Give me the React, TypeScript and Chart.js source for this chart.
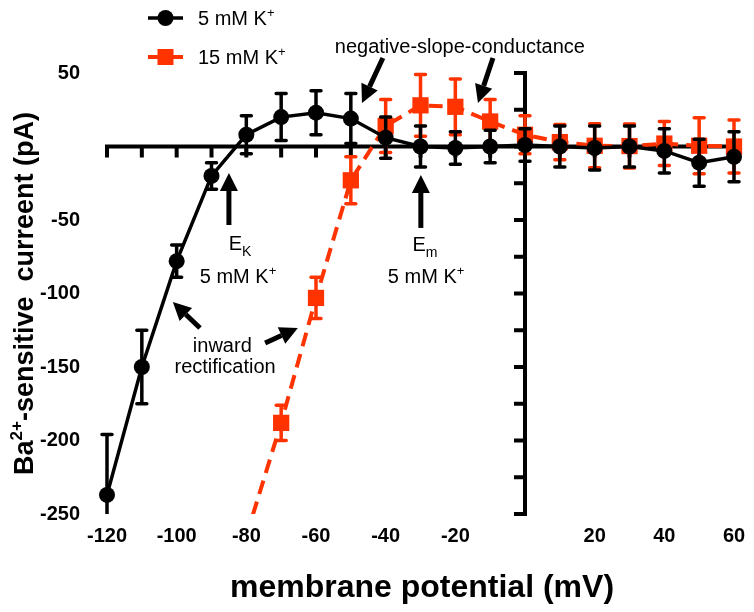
import React, { useEffect, useRef } from 'react';
import { Chart, registerables } from 'chart.js';

Chart.register(...registerables);

// ---- data ----
const voltage5 = [-120, -110, -100, -90, -80, -70, -60, -50, -40, -30, -20, -10, 0, 10, 20, 30, 40, 50, 60];
const current5 = [-237, -150, -78, -20, 8, 20, 23, 19, 6, 0, -1, 0, 1, 0, -1, 0, -3, -11, -7];
const error5 = [41, 25, 11, 9, 13, 16, 15, 17, 14, 14, 11, 11, 11, 14, 15, 14, 15, 16, 17];

const voltage15 = [-80, -70, -60, -50, -40, -30, -20, -10, 0, 10, 20, 30, 40, 50, 60];
const current15 = [-265, -188, -103, -23, 14, 28, 27, 17, 8, 3, 0.5, 0.3, 2, 0.5, 0];
const error15: (number | null)[] = [null, 12, 14, 16, 18, 21, 19, 15, 13, 12, 15, 15, 15, 19, 18];

const xTicks = [-120, -100, -80, -60, -40, -20, 0, 20, 40, 60];
const yTicks = [-250, -200, -150, -100, -50, 0, 50];

const legendLabels = ['5 mM K', '15 mM K'];
const xTitle = 'membrane potential (mV)';
const yTitleParts = ['Ba', '2+', '-sensitive  curreent (pA)'];

// annotation texts in data coordinates (x, baseline y)
const noteTexts = [
  { text: 'negative-slope-conductance', x: -18.7, y: 63.6 },
  { text: 'inward', x: -86.9, y: -139.8 },
  { text: 'rectification', x: -86.1, y: -154.1 },
];
const noteSubs = [
  { main: 'E', sub: 'K', x: -81.8, y: -70.7 },
  { main: 'E', sub: 'm', x: -28.7, y: -71.1 },
];
const noteConc = [
  { x: -82.4, y: -92.9 },
  { x: -28.4, y: -92.9 },
];
const arrows = [
  { x0: -40.8, y0: 60.2, x1: -46.8, y1: 29.6 },
  { x0: -9.2, y0: 60.2, x1: -13.5, y1: 29.6 },
  { x0: -85.0, y0: -53.4, x1: -85.0, y1: -18.0 },
  { x0: -29.9, y0: -55.4, x1: -29.9, y1: -19.4 },
  { x0: -93.3, y0: -123.5, x1: -101.1, y1: -105.8 },
  { x0: -74.6, y0: -133.7, x1: -65.2, y1: -123.5 },
];

const BLACK = '#000000';
const RED = '#ff3300';
const FAMILY = '"Liberation Sans", Arial, Helvetica, sans-serif';

type Part = { t: string; size: number; dy: number; bold?: boolean };

function drawParts(ctx: CanvasRenderingContext2D, parts: Part[], x: number, y: number, align: 'left' | 'center') {
  let w = 0;
  const widths: number[] = [];
  for (const p of parts) {
    ctx.font = `${p.bold ? 'bold ' : ''}${p.size}px ${FAMILY}`;
    const m = ctx.measureText(p.t).width;
    widths.push(m);
    w += m;
  }
  let cx = align === 'center' ? x - w / 2 : x;
  ctx.textAlign = 'left';
  ctx.textBaseline = 'alphabetic';
  parts.forEach((p, i) => {
    ctx.font = `${p.bold ? 'bold ' : ''}${p.size}px ${FAMILY}`;
    ctx.fillText(p.t, cx, y + p.dy);
    cx += widths[i];
  });
}

function drawArrow(ctx: CanvasRenderingContext2D, x0: number, y0: number, x1: number, y1: number) {
  const ang = Math.atan2(y1 - y0, x1 - x0);
  const headLen = 18;
  const headHalf = 9;
  const bx = x1 - headLen * Math.cos(ang);
  const by = y1 - headLen * Math.sin(ang);
  ctx.save();
  ctx.strokeStyle = BLACK;
  ctx.fillStyle = BLACK;
  ctx.lineWidth = 5;
  ctx.beginPath();
  ctx.moveTo(x0, y0);
  ctx.lineTo(bx, by);
  ctx.stroke();
  ctx.beginPath();
  ctx.moveTo(x1, y1);
  ctx.lineTo(bx + headHalf * Math.sin(ang), by - headHalf * Math.cos(ang));
  ctx.lineTo(bx - headHalf * Math.sin(ang), by + headHalf * Math.cos(ang));
  ctx.closePath();
  ctx.fill();
  ctx.restore();
}

const errorBarPlugin = {
  id: 'errorBars',
  beforeDatasetDraw(chart: any, args: any) {
    const idx = args.index;
    const ds = chart.data.datasets[idx];
    const errs: (number | null)[] = ds.errors;
    if (!errs) return;
    const xs = chart.scales.x;
    const ys = chart.scales.y;
    const ca = chart.chartArea;
    const ctx = chart.ctx;
    ctx.save();
    ctx.beginPath();
    ctx.rect(ca.left - 30, ca.top - 30, ca.right - ca.left + 60, ca.bottom - ca.top + 30);
    ctx.clip();
    ctx.strokeStyle = ds.borderColor;
    ctx.lineWidth = 3.5;
    ctx.lineCap = 'round';
    ds.data.forEach((pt: any, i: number) => {
      const e = errs[i];
      if (e == null) return;
      const px = xs.getPixelForValue(pt.x);
      const top = ys.getPixelForValue(pt.y + e);
      const bot = ys.getPixelForValue(pt.y - e);
      ctx.beginPath();
      ctx.moveTo(px, top);
      ctx.lineTo(px, bot);
      ctx.moveTo(px - 5, top);
      ctx.lineTo(px + 5, top);
      ctx.moveTo(px - 5, bot);
      ctx.lineTo(px + 5, bot);
      ctx.stroke();
    });
    ctx.restore();
  },
};

const axesPlugin = {
  id: 'zeroAxes',
  beforeDatasetsDraw(chart: any) {
    const ctx = chart.ctx;
    const xs = chart.scales.x;
    const ys = chart.scales.y;
    const y0 = ys.getPixelForValue(0);
    const x0 = xs.getPixelForValue(0);
    ctx.save();
    ctx.strokeStyle = BLACK;
    ctx.lineWidth = 4;
    ctx.lineCap = 'butt';
    // x axis at y = 0
    ctx.beginPath();
    ctx.moveTo(xs.getPixelForValue(xs.min) - 2, y0);
    ctx.lineTo(xs.getPixelForValue(xs.max) + 2, y0);
    for (let v = xs.min; v <= xs.max; v += 10) {
      const px = xs.getPixelForValue(v);
      ctx.moveTo(px, y0);
      ctx.lineTo(px, y0 + 11);
    }
    ctx.stroke();
    // y axis at x = 0
    ctx.beginPath();
    ctx.moveTo(x0, ys.getPixelForValue(ys.max) - 2);
    ctx.lineTo(x0, ys.getPixelForValue(ys.min) + 2);
    for (let v = ys.min; v <= ys.max; v += 25) {
      const py = ys.getPixelForValue(v);
      ctx.moveTo(x0, py);
      ctx.lineTo(x0 - 11, py);
    }
    ctx.stroke();
    ctx.restore();
  },
};

const decorPlugin = {
  id: 'decor',
  afterDraw(chart: any) {
    const ctx = chart.ctx;
    const xs = chart.scales.x;
    const ys = chart.scales.y;
    const ca = chart.chartArea;
    ctx.save();
    ctx.fillStyle = BLACK;

    // legend
    const legY = [18, 57];
    // black
    ctx.strokeStyle = BLACK;
    ctx.lineWidth = 3.5;
    ctx.beginPath();
    ctx.moveTo(148, legY[0]);
    ctx.lineTo(183, legY[0]);
    ctx.stroke();
    ctx.beginPath();
    ctx.arc(165.5, legY[0], 8, 0, Math.PI * 2);
    ctx.fill();
    // red
    ctx.strokeStyle = RED;
    ctx.fillStyle = RED;
    ctx.lineWidth = 4;
    ctx.beginPath();
    ctx.moveTo(148, legY[1]);
    ctx.lineTo(183, legY[1]);
    ctx.stroke();
    ctx.fillRect(165.5 - 8, legY[1] - 8, 16, 16);
    ctx.fillStyle = BLACK;
    legendLabels.forEach((lab, i) => {
      drawParts(ctx, [
        { t: lab, size: 20, dy: 0 },
        { t: '+', size: 13, dy: -8 },
      ], 198, legY[i] + 7, 'left');
    });

    // annotations
    noteTexts.forEach((n) => {
      drawParts(ctx, [{ t: n.text, size: 20, dy: 0 }], xs.getPixelForValue(n.x), ys.getPixelForValue(n.y), 'center');
    });
    noteSubs.forEach((n) => {
      drawParts(ctx, [
        { t: n.main, size: 20, dy: 0 },
        { t: n.sub, size: 14, dy: 6 },
      ], xs.getPixelForValue(n.x), ys.getPixelForValue(n.y), 'center');
    });
    noteConc.forEach((n) => {
      drawParts(ctx, [
        { t: '5 mM K', size: 20, dy: 0 },
        { t: '+', size: 13, dy: -8 },
      ], xs.getPixelForValue(n.x), ys.getPixelForValue(n.y), 'center');
    });
    arrows.forEach((a) => {
      drawArrow(ctx, xs.getPixelForValue(a.x0), ys.getPixelForValue(a.y0), xs.getPixelForValue(a.x1), ys.getPixelForValue(a.y1));
    });

    // axis titles
    drawParts(ctx, [{ t: xTitle, size: 32, dy: 0, bold: true }], 422, 597, 'center');
    ctx.save();
    ctx.translate(33, (ca.top + ca.bottom) / 2);
    ctx.rotate(-Math.PI / 2);
    drawParts(ctx, [
      { t: yTitleParts[0], size: 27, dy: 0, bold: true },
      { t: yTitleParts[1], size: 17, dy: -11, bold: true },
      { t: yTitleParts[2], size: 27, dy: 0, bold: true },
    ], 0, 0, 'center');
    ctx.restore();

    ctx.restore();
  },
};

export default function App() {
  const canvasRef = useRef<HTMLCanvasElement | null>(null);

  useEffect(() => {
    document.body.style.margin = '0';
    const canvas = canvasRef.current;
    if (!canvas) return;
    const tickFont = { family: FAMILY, size: 20, weight: 'bold' as const };
    const chart = new Chart(canvas, {
      type: 'line',
      data: {
        datasets: [
          {
            label: '5 mM K+',
            data: voltage5.map((v, i) => ({ x: v, y: current5[i] })),
            errors: error5,
            borderColor: BLACK,
            backgroundColor: BLACK,
            borderWidth: 3.5,
            pointStyle: 'circle',
            pointRadius: 8,
            pointBorderWidth: 0,
            pointBackgroundColor: BLACK,
            tension: 0,
            clip: false,
          } as any,
          {
            label: '15 mM K+',
            data: voltage15.map((v, i) => ({ x: v, y: current15[i] })),
            errors: error15,
            borderColor: RED,
            backgroundColor: RED,
            borderWidth: 4,
            borderDash: [14, 8],
            pointStyle: 'rect',
            pointRadius: error15.map((e) => (e == null ? 0 : 11.5)),
            pointBorderWidth: 0,
            pointBackgroundColor: RED,
            tension: 0,
            clip: { left: false, top: false, right: false, bottom: 0 },
          } as any,
        ],
      },
      options: {
        animation: false,
        responsive: false,
        layout: { padding: { top: 73, right: 20, left: 0, bottom: 0 } },
        plugins: {
          legend: { display: false },
          tooltip: { enabled: false },
          title: { display: false },
        },
        scales: {
          x: {
            type: 'linear',
            min: xTicks[0],
            max: xTicks[xTicks.length - 1],
            afterFit: (s: any) => { s.height = 98; },
            afterBuildTicks: (s: any) => { s.ticks = xTicks.map((v) => ({ value: v })); },
            grid: { display: false },
            border: { display: false },
            ticks: {
              color: BLACK,
              font: tickFont,
              padding: 2,
              maxRotation: 0,
              autoSkip: false,
              callback: (v: any) => (Number(v) === 0 ? '' : String(v)),
            },
          },
          y: {
            type: 'linear',
            min: yTicks[0],
            max: yTicks[yTicks.length - 1],
            afterFit: (s: any) => { s.width = 107; },
            afterBuildTicks: (s: any) => { s.ticks = yTicks.map((v) => ({ value: v })); },
            grid: { display: false },
            border: { display: false },
            ticks: {
              color: BLACK,
              font: tickFont,
              padding: 19,
              autoSkip: false,
              callback: (v: any) => (Number(v) === 0 ? '' : String(v)),
            },
          },
        },
      } as any,
      plugins: [axesPlugin, errorBarPlugin, decorPlugin],
    });
    return () => chart.destroy();
  }, []);

  return <canvas ref={canvasRef} width={754} height={612} style={{ display: 'block' }} />;
}
